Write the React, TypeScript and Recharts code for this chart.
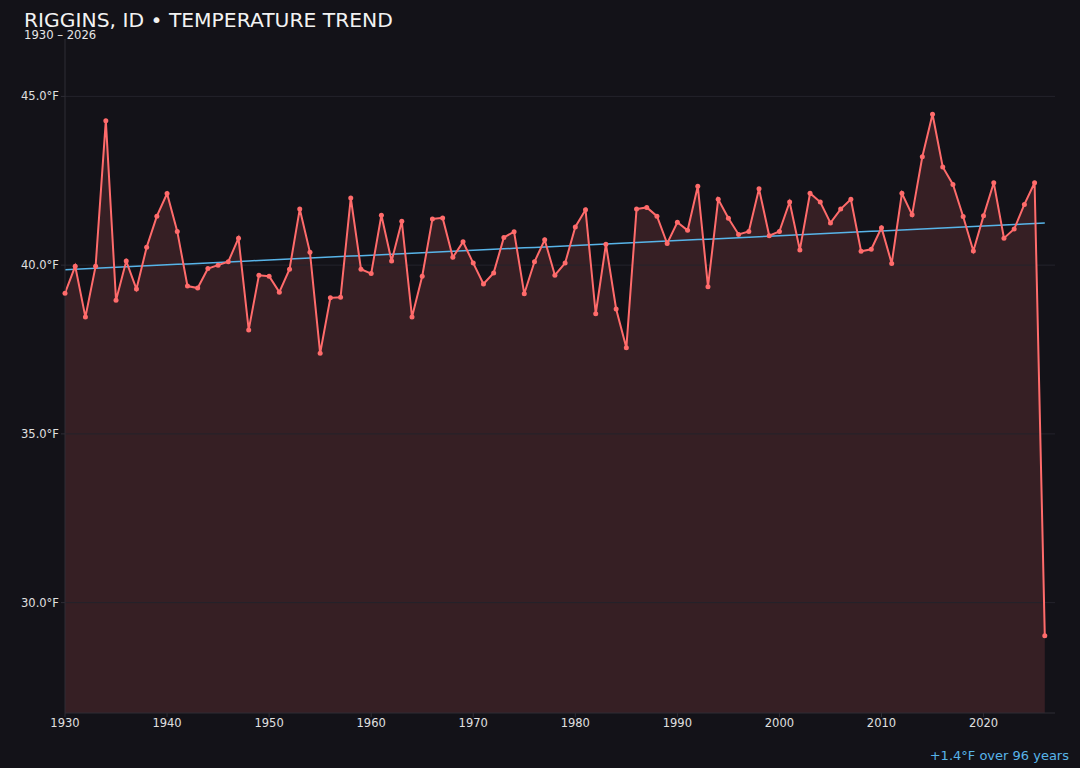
import { ComposedChart, Area, Line, XAxis, YAxis, ReferenceLine } from 'recharts';

// Annual mean temperature, Riggins ID (°F)
const YEARS = [
  1930, 1931, 1932, 1933, 1934, 1935, 1936, 1937, 1938, 1939,
  1940, 1941, 1942, 1943, 1944, 1945, 1946, 1947, 1948, 1949,
  1950, 1951, 1952, 1953, 1954, 1955, 1956, 1957, 1958, 1959,
  1960, 1961, 1962, 1963, 1964, 1965, 1966, 1967, 1968, 1969,
  1970, 1971, 1972, 1973, 1974, 1975, 1976, 1977, 1978, 1979,
  1980, 1981, 1982, 1983, 1984, 1985, 1986, 1987, 1988, 1989,
  1990, 1991, 1992, 1993, 1994, 1995, 1996, 1997, 1998, 1999,
  2000, 2001, 2002, 2003, 2004, 2005, 2006, 2007, 2008, 2009,
  2010, 2011, 2012, 2013, 2014, 2015, 2016, 2017, 2018, 2019,
  2020, 2021, 2022, 2023, 2024, 2025, 2026,
];

const TEMPS = [
  39.17, 39.97, 38.46, 39.97, 44.28, 38.96, 40.12, 39.29, 40.53, 41.45,
  42.12, 41.0, 39.38, 39.32, 39.9, 40.0, 40.1, 40.8, 38.08, 39.7,
  39.67, 39.2, 39.88, 41.66, 40.38, 37.39, 39.03, 39.05, 41.99, 39.88,
  39.75, 41.48, 40.12, 41.3, 38.46, 39.67, 41.37, 41.4, 40.23, 40.69,
  40.06, 39.44, 39.77, 40.82, 40.99, 39.15, 40.1, 40.75, 39.7, 40.06,
  41.13, 41.64, 38.56, 40.62, 38.7, 37.55, 41.66, 41.71, 41.45, 40.64,
  41.27, 41.03, 42.34, 39.36, 41.95, 41.39, 40.91, 41.0, 42.26, 40.87,
  41.0, 41.87, 40.45, 42.13, 41.87, 41.25, 41.66, 41.95, 40.41, 40.47,
  41.11, 40.05, 42.13, 41.49, 43.21, 44.47, 42.91, 42.39, 41.44, 40.42,
  41.46, 42.44, 40.8, 41.07, 41.8, 42.44, 29.02,
];

const X_TICKS = [1930, 1940, 1950, 1960, 1970, 1980, 1990, 2000, 2010, 2020];
const Y_TICKS = [30, 35, 40, 45];

// least squares trend over the whole record
const n = YEARS.length;
const mx = YEARS.reduce((a, b) => a + b, 0) / n;
const my = TEMPS.reduce((a, b) => a + b, 0) / n;
let sxy = 0;
let sxx = 0;
YEARS.forEach((y, i) => {
  sxy += (y - mx) * (TEMPS[i] - my);
  sxx += (y - mx) * (y - mx);
});
const slope = sxy / sxx;
const intercept = my - slope * mx;

const data = YEARS.map((year, i) => ({
  year,
  temp: TEMPS[i],
  trend: intercept + slope * year,
}));

const BG = '#131218';
const RED = '#ff6b6b';
const BLUE = '#58b4e8';
const FONT = '"DejaVu Sans", Verdana, sans-serif';
const TICK = { fill: '#e0e0e0', fontSize: 11.5, fontFamily: FONT };

export default function App() {
  const span = YEARS[n - 1] - YEARS[0];
  const change = slope * span;
  return (
    <div
      style={{
        position: 'absolute',
        left: 0,
        top: 0,
        width: 1080,
        height: 768,
        background: BG,
        fontFamily: FONT,
        overflow: 'hidden',
      }}
    >
      <div style={{ position: 'absolute', left: 24, top: 11, fontSize: 20.3, lineHeight: '18px', color: '#f2f2f2', whiteSpace: 'nowrap' }}>
        RIGGINS, ID • TEMPERATURE TREND
      </div>
      <div style={{ position: 'absolute', left: 24, top: 30, fontSize: 11.6, lineHeight: '10px', color: '#e6e6e6', whiteSpace: 'nowrap' }}>
        {YEARS[0]} – {YEARS[n - 1]}
      </div>
      <ComposedChart
        width={1080}
        height={768}
        data={data}
        margin={{ top: 39, right: 25, bottom: 0, left: 0 }}
      >
        {Y_TICKS.map((t) => (
          <ReferenceLine key={t} y={t} stroke="#24232b" strokeWidth={1} />
        ))}
        <XAxis
          dataKey="year"
          type="number"
          domain={[1930, 2027]}
          ticks={X_TICKS}
          tickSize={4}
          tick={TICK}
          axisLine={{ stroke: '#2e2d35' }}
          tickLine={{ stroke: '#2e2d35' }}
          height={55}
        />
        <YAxis
          type="number"
          domain={[26.73, 46.7]}
          ticks={Y_TICKS}
          allowDataOverflow
          width={65}
          tickSize={4}
          tickFormatter={(v: number) => `${v.toFixed(1)}°F`}
          tick={TICK}
          axisLine={{ stroke: '#2e2d35' }}
          tickLine={{ stroke: '#2e2d35' }}
        />
        <Area
          type="linear"
          dataKey="temp"
          stroke="none"
          fill={RED}
          fillOpacity={0.15}
          activeDot={false}
          isAnimationActive={false}
        />
        <Line
          type="linear"
          dataKey="trend"
          stroke={BLUE}
          strokeWidth={1.5}
          dot={false}
          activeDot={false}
          isAnimationActive={false}
        />
        <Line
          type="linear"
          dataKey="temp"
          stroke={RED}
          strokeWidth={2}
          dot={{ r: 2.5, fill: RED, stroke: RED, strokeWidth: 0 }}
          activeDot={false}
          isAnimationActive={false}
        />
      </ComposedChart>
      <div style={{ position: 'absolute', right: 11, top: 749, fontSize: 13, lineHeight: '13px', color: BLUE, whiteSpace: 'nowrap' }}>
        {change >= 0 ? '+' : ''}
        {change.toFixed(1)}°F over {span} years
      </div>
    </div>
  );
}
